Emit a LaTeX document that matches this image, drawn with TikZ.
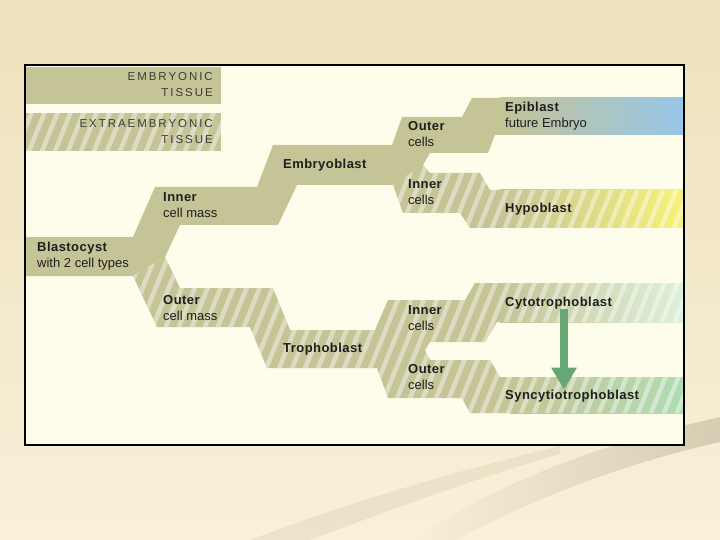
\documentclass[tikz,border=0pt]{standalone}
\usepackage{fontspec}
\setmainfont{Liberation Sans}
\usepackage{xcolor}
\usetikzlibrary{arrows.meta, positioning}

\definecolor{bandolive}{RGB}{197,196,150}
\definecolor{panelcream}{RGB}{254,253,236}
\definecolor{epiblue}{RGB}{150,197,232}
\definecolor{hypoyellow}{RGB}{246,242,120}
\definecolor{cytogreen}{RGB}{150,205,155}
\definecolor{cytofade}{RGB}{222,240,218}
\definecolor{syngreen}{RGB}{175,220,178}
\definecolor{arrowgreen}{RGB}{104,166,116}
\definecolor{slidetop}{RGB}{238,225,188}
\definecolor{slidebottom}{RGB}{248,240,217}
\definecolor{swooshtan}{RGB}{214,204,178}
\definecolor{textgray}{RGB}{30,30,30}
\definecolor{tissuegray}{RGB}{60,60,52}

% light diagonal stripes, used inside a clip
\newcommand{\stripefill}{\foreach \s in {-200,-187,...,700} \draw[stripe] (\s,460) -- ++(170,-420);}
% bold cell name
\newcommand{\cellbf}[1]{{\bfseries\addfontfeatures{LetterSpace=3.5}#1}}

\begin{document}
\begin{tikzpicture}[x=1pt, y=-1pt,
    cellname/.style={anchor=west, align=left, inner sep=0pt, text=textgray, font=\fontsize{13}{16}\selectfont},
    tissuename/.style={anchor=east, align=right, inner sep=0pt, text=tissuegray, font=\fontsize{11.5}{16}\selectfont\addfontfeatures{LetterSpace=17}},
    band/.style={fill=bandolive},
    stripe/.style={draw=white, line width=4.5pt, opacity=0.42},
    growarrow/.style={line width=8pt, draw=arrowgreen, -{Triangle[width=24pt, length=22pt]}}]
    \useasboundingbox (0,0) rectangle (720,540);

    % Slide and panel
    \shade[top color=slidetop, bottom color=slidebottom] (0,0) rectangle (720,540);
    \shade[left color=slidebottom, right color=swooshtan] (410,540) .. controls (520,470) and (620,440) .. (720,417) -- (720,442) .. controls (640,460) and (550,490) .. (455,540) -- cycle;
    \fill[swooshtan, opacity=0.35] (250,540) .. controls (330,510) and (420,480) .. (560,446) -- (560,454) .. controls (470,480) and (390,510) .. (310,540) -- cycle;
    \fill[panelcream] (25,65) rectangle (684,445);

    % Legend
    \fill[band] (25,67) rectangle (221,104);
    \fill[band] (25,113) rectangle (221,151);
    \begin{scope}
        \clip (25,113) rectangle (221,151);
        \stripefill
    \end{scope}

    % Embryonic tissue
    \fill[band] (25,237) -- (133,237) -- (155,187) -- (257,187) -- (273,145) -- (392,145) -- (402,117) -- (462,117) -- (472,98) -- (684,98) -- (684,135) -- (495,135) -- (488,153) -- (430,153) -- (423,165) -- (393,185) -- (297,185) -- (278,225) -- (180,225) -- (165,257) -- (133,276) -- (25,276) -- cycle;
    \shade[left color=bandolive, right color=epiblue] (500,98) rectangle (684,135);

    % Extraembryonic tissue, upper
    \fill[band] (423,165) -- (430,173) -- (480,173) -- (490,190) -- (684,190) -- (684,228) -- (470,228) -- (460,213) -- (403,213) -- (393,185) -- cycle;
    \shade[left color=bandolive, right color=hypoyellow] (500,190) rectangle (684,228);
    \begin{scope}
        \clip (423,165) -- (430,173) -- (480,173) -- (490,190) -- (684,190) -- (684,228) -- (470,228) -- (460,213) -- (403,213) -- (393,185) -- cycle;
        \stripefill
    \end{scope}

    % Extraembryonic tissue, lower
    \fill[band] (165,257) -- (180,288) -- (273,288) -- (290,330) -- (375,330) -- (388,300) -- (465,300) -- (475,283) -- (684,283) -- (684,322) -- (497,322) -- (485,342) -- (430,342) -- (425,350) -- (430,360) -- (490,360) -- (500,377) -- (684,377) -- (684,413) -- (470,413) -- (462,398) -- (388,398) -- (377,368) -- (267,368) -- (250,327) -- (157,327) -- (133,276) -- cycle;
    \shade[left color=bandolive, middle color=cytogreen, right color=cytofade] (500,283) rectangle (684,322);
    \shade[left color=bandolive, right color=syngreen] (510,377) rectangle (684,413);
    \begin{scope}
        \clip (165,257) -- (180,288) -- (273,288) -- (290,330) -- (375,330) -- (388,300) -- (465,300) -- (475,283) -- (684,283) -- (684,322) -- (497,322) -- (485,342) -- (430,342) -- (425,350) -- (430,360) -- (490,360) -- (500,377) -- (684,377) -- (684,413) -- (470,413) -- (462,398) -- (388,398) -- (377,368) -- (267,368) -- (250,327) -- (157,327) -- (133,276) -- cycle;
        \stripefill
    \end{scope}

    \draw[black, line width=1.2pt] (25,65) rectangle (684,445);

    % Nodes
    \node[tissuename] (embryonic) at (213,85) {EMBRYONIC\\TISSUE};
    \node[tissuename] (extraembryonic) at (213,132) {EXTRAEMBRYONIC\\TISSUE};
    \node[cellname] (blastocyst) at (37,256) {\cellbf{Blastocyst}\\with 2 cell types};
    \node[cellname] (innermass) at (163,205) {\cellbf{Inner}\\cell mass};
    \node[cellname] (outermass) at (163,308) {\cellbf{Outer}\\cell mass};
    \node[cellname] (embryoblast) at (283,165) {\cellbf{Embryoblast}};
    \node[cellname] (trophoblast) at (283,349) {\cellbf{Trophoblast}};
    \node[cellname] (outerup) at (408,134) {\cellbf{Outer}\\cells};
    \node[cellname] (innerup) at (408,192) {\cellbf{Inner}\\cells};
    \node[cellname] (innerlow) at (408,318) {\cellbf{Inner}\\cells};
    \node[cellname] (outerlow) at (408,377) {\cellbf{Outer}\\cells};
    \node[cellname] (epiblast) at (505,116) {\cellbf{Epiblast}\\future Embryo};
    \node[cellname] (hypoblast) at (505,209) {\cellbf{Hypoblast}};
    \node[cellname] (cyto) at (505,303) {\cellbf{Cytotrophoblast}};
    \node[cellname] (syncytio) at (505,396) {\cellbf{Syncytiotrophoblast}};

    % Arrow
    \coordinate (arrowx) at (564,0);
    \draw[growarrow] (cyto.south -| arrowx) -- (syncytio.north -| arrowx);
\end{tikzpicture}
\end{document}
